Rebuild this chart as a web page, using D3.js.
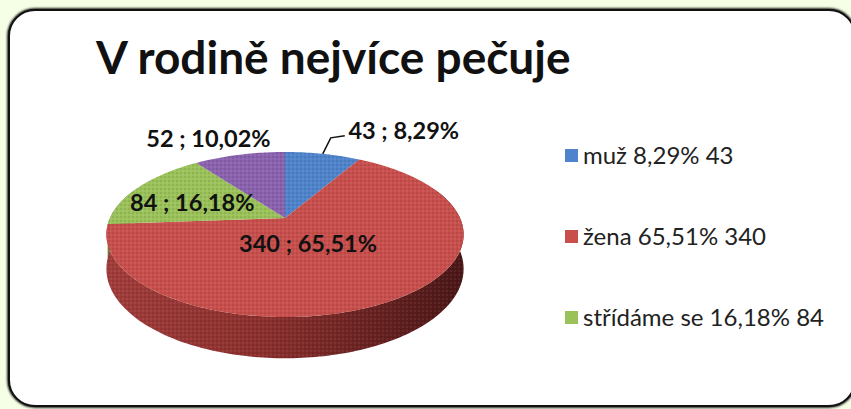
<!DOCTYPE html>
<meta charset="utf-8">
<script src="https://d3js.org/d3.v7.min.js"></script>
<style>
  body { margin: 0; background: #f4ffe6; }
  svg { display: block; }
</style>
<div id="chart"></div>
<script>

// data
var categories = ["muž", "žena", "střídáme se", "jiná odpověď"];
var values = [43, 340, 84, 52];
var colors = ["#4f84cc", "#c84f4c", "#9bc25a", "#8a62ae"];
var legendCount = 3; // only three entries are visible in the legend
var title = "V rodině nejvíce pečuje";

var W = 851, H = 409;

var svg = d3.select("#chart").append("svg")
    .attr("width", W)
    .attr("height", H);

var defs = svg.append("defs");

// soft shadow for the frame
var f = defs.append("filter").attr("id", "shadow")
    .attr("x", "-5%").attr("y", "-5%").attr("width", "110%").attr("height", "110%");
f.append("feGaussianBlur").attr("stdDeviation", 1.2);

// side shading of the pie
var grad = defs.append("linearGradient").attr("id", "side")
    .attr("x1", "0").attr("x2", "1").attr("y1", "0").attr("y2", "0");
grad.append("stop").attr("offset", "0%").attr("stop-color", "#a13c3a");
grad.append("stop").attr("offset", "45%").attr("stop-color", "#8a2f2d");
grad.append("stop").attr("offset", "100%").attr("stop-color", "#4a1616");

// the dithered look of the original
var pat = defs.append("pattern").attr("id", "dots")
    .attr("width", 4).attr("height", 4).attr("patternUnits", "userSpaceOnUse");
pat.append("rect").attr("x", 0).attr("y", 0).attr("width", 2).attr("height", 2)
    .attr("fill", "#000").attr("opacity", 0.08);
pat.append("rect").attr("x", 2).attr("y", 2).attr("width", 2).attr("height", 2)
    .attr("fill", "#fff").attr("opacity", 0.06);

// frame
svg.append("rect")
    .attr("x", 9).attr("y", 10).attr("width", 846).attr("height", 396)
    .attr("rx", 26).attr("ry", 26)
    .attr("fill", "none").attr("stroke", "#000").attr("stroke-width", 3.5)
    .attr("filter", "url(#shadow)");
svg.append("rect")
    .attr("x", 9).attr("y", 10).attr("width", 846).attr("height", 396)
    .attr("rx", 26).attr("ry", 26)
    .attr("fill", "#fff").attr("stroke", "#111").attr("stroke-width", 2);

// title
svg.append("text")
    .attr("x", 96).attr("y", 74)
    .attr("font-family", "Lato, 'Open Sans', sans-serif")
    .attr("font-weight", "bold")
    .attr("font-size", 46)
    .attr("fill", "#111")
    .text(title);

// 3d pie projection: a disc tilted away, seen in perspective
var cx = 285, cy = 218, rx = 175, ry = 79.2, persp = 0.2, depth = 33;

function proj(angle, r, drop) {
  var u = r * Math.sin(angle), v = -r * Math.cos(angle);
  var w = 1 / (1 - persp * v);
  return [cx + rx * u * w, cy + ry * v * w + (drop ? depth * w : 0)];
}

function arcPoints(a0, a1, drop) {
  var n = Math.max(2, Math.ceil((a1 - a0) / 0.02));
  return d3.range(n + 1).map(function(i) { return proj(a0 + (a1 - a0) * i / n, 1, drop); });
}

var pie = d3.pie().sort(null).value(function(d) { return d; });
var arcs = pie(values);
var line = d3.line();

var g = svg.append("g");

// sides (front half only)
arcs.forEach(function(d, i) {
  var a0 = Math.max(d.startAngle, Math.PI / 2 - 0.4),
      a1 = Math.min(d.endAngle, 3 * Math.PI / 2 + 0.4);
  if (a1 <= a0) return;
  var pts = arcPoints(a0, a1, false).concat(arcPoints(a0, a1, true).reverse());
  g.append("path")
      .attr("d", line(pts) + "Z")
      .attr("fill", i === 1 ? "url(#side)" : d3.color(colors[i]).darker(1));
  g.append("path")
      .attr("d", line(pts) + "Z")
      .attr("fill", "url(#dots)");
});

// top faces
arcs.forEach(function(d, i) {
  var pts = [proj(0, 0, false)].concat(arcPoints(d.startAngle, d.endAngle, false));
  g.append("path")
      .attr("d", line(pts) + "Z")
      .attr("fill", colors[i]);
  g.append("path")
      .attr("d", line(pts) + "Z")
      .attr("fill", "url(#dots)");
});

// data labels "value ; percent"
var total = d3.sum(values);
var pct = function(v) { return d3.format(".2f")(v / total * 100).replace(".", ",") + "%"; };

// label placement: radius along the slice middle, then a nudge
var labelLayout = [
  {r: 1, dx: 81, dy: -23},
  {r: 0.5, dx: -28, dy: -11},
  {r: 0.6, dx: -2, dy: 4},
  {r: 1, dx: -31, dy: -16}
];

arcs.forEach(function(d, i) {
  var mid = (d.startAngle + d.endAngle) / 2;
  var p = proj(mid, labelLayout[i].r, false);
  var lx = p[0] + labelLayout[i].dx, ly = p[1] + labelLayout[i].dy;
  if (i === 0) {
    // leader line
    svg.append("path")
        .attr("d", line([p, [p[0] + 8, p[1] - 16], [p[0] + 22, p[1] - 18]]))
        .attr("fill", "none").attr("stroke", "#111").attr("stroke-width", 1.5);
  }
  svg.append("text")
      .attr("x", lx).attr("y", ly)
      .attr("dy", "0.36em")
      .attr("text-anchor", "middle")
      .attr("font-family", "Lato, 'Open Sans', sans-serif")
      .attr("font-weight", "bold")
      .attr("font-size", 23.5)
      .attr("fill", "#111")
      .text(values[i] + " ; " + pct(values[i]));
});

// legend
var ly = d3.scalePoint()
    .domain(d3.range(legendCount))
    .range([155, 317]);

var leg = svg.append("g");
d3.range(legendCount).forEach(function(i) {
  leg.append("rect")
      .attr("x", 565).attr("y", ly(i) - 6)
      .attr("width", 13).attr("height", 13)
      .attr("fill", colors[i]);
  leg.append("text")
      .attr("x", 583).attr("y", ly(i))
      .attr("dy", "0.36em")
      .attr("font-family", "Lato, 'Open Sans', sans-serif")
      .attr("font-size", 24)
      .attr("fill", "#222")
      .text(categories[i] + " " + pct(values[i]) + " " + values[i]);
});

</script>
